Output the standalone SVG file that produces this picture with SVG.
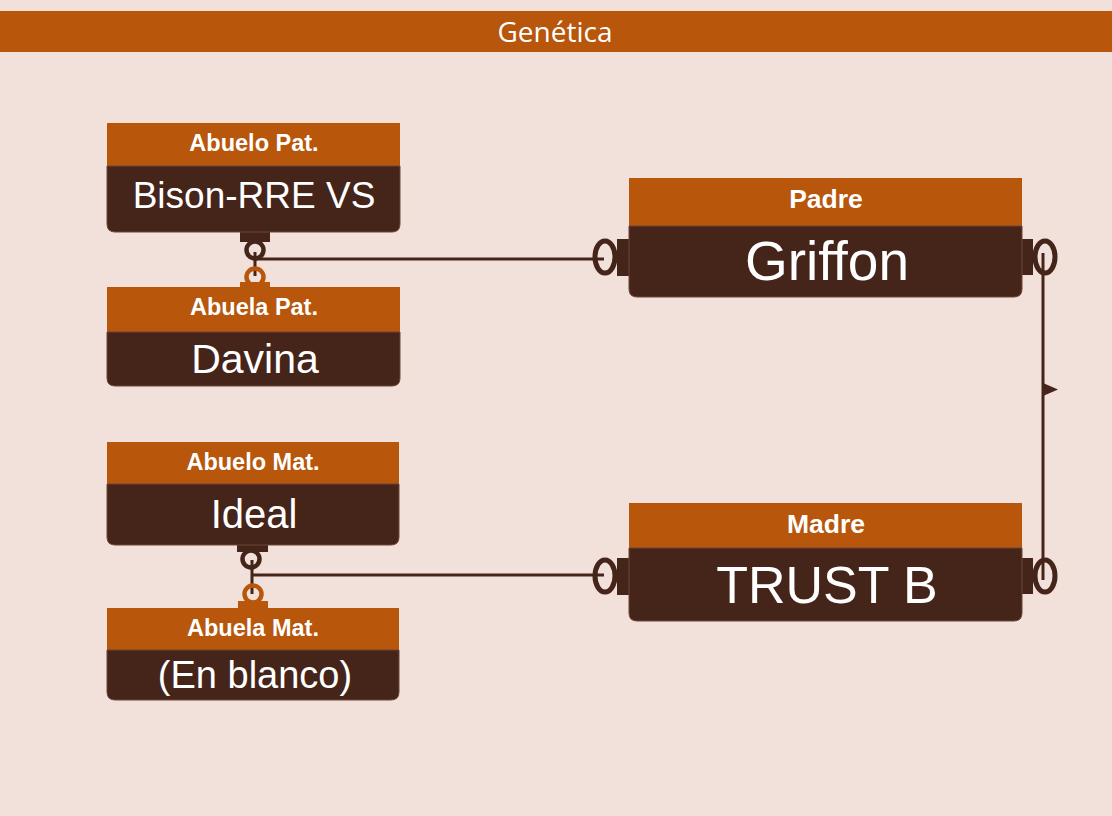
<svg xmlns="http://www.w3.org/2000/svg" width="1112" height="816" viewBox="0 0 1112 816">
<style>
.hdr{fill:#B8560C}
.body{fill:#45241A;stroke:#6e4636;stroke-width:1}
.ht{font-family:"Liberation Sans",Arial,sans-serif;font-weight:bold;fill:#ffffff;text-anchor:middle}
.bt{font-family:"Liberation Sans",Arial,sans-serif;fill:#ffffff;text-anchor:middle}
.ln{stroke:#45241A;stroke-width:3;fill:none}
.ringd{stroke:#45241A;stroke-width:4.5;fill:none}
.ringo{stroke:#B8560C;stroke-width:4.5;fill:none}
.ringb{stroke:#45241A;stroke-width:5;fill:none}
.tabd{fill:#45241A}
.tabo{fill:#B8560C}
</style>
<rect x="0" y="0" width="1112" height="816" fill="#F2E0DA"/>
<g id="title">
<rect x="0" y="11" width="1112" height="41" fill="#B8560C"/>
<text x="555" y="42" font-family="'Open Sans','Noto Sans',sans-serif" font-size="28" fill="#ffffff" text-anchor="middle">Genética</text>
</g>
<g id="connectors">
<line class="ln" x1="255" y1="252" x2="255" y2="276"/>
<line class="ln" x1="255" y1="259" x2="604" y2="259"/>
<rect class="tabd" x="240" y="232" width="30" height="10"/>
<circle class="ringd" cx="255" cy="250" r="8.5"/>
<rect class="tabo" x="240" y="282" width="30" height="6"/>
<circle class="ringo" cx="255" cy="277" r="8.5"/>
<line class="ln" x1="252" y1="560" x2="252" y2="594"/>
<line class="ln" x1="252" y1="575" x2="604" y2="575"/>
<rect class="tabd" x="237" y="545" width="31" height="7"/>
<circle class="ringd" cx="251" cy="559" r="8.5"/>
<rect class="tabo" x="238" y="601" width="30" height="7"/>
<circle class="ringo" cx="253" cy="594" r="8.5"/>
<rect class="tabd" x="617" y="239" width="13" height="37"/>
<ellipse class="ringb" cx="605" cy="257" rx="10" ry="16"/>
<rect class="tabd" x="1021" y="239" width="12" height="36"/>
<ellipse class="ringb" cx="1045" cy="257" rx="10" ry="16"/>
<rect class="tabd" x="617" y="558" width="13" height="37"/>
<ellipse class="ringb" cx="605" cy="576" rx="10" ry="16"/>
<rect class="tabd" x="1021" y="558" width="12" height="36"/>
<ellipse class="ringb" cx="1045" cy="576" rx="10" ry="16"/>
<line class="ln" x1="1043" y1="253" x2="1043" y2="580"/>
<polygon points="1043,383 1058,389.5 1043,396" fill="#45241A"/>
</g>
<g id="abuelo-pat">
<rect class="hdr" x="107" y="123" width="293" height="43"/>
<path class="body" d="M107 166 H400 V224 Q400 232 392 232 H115 Q107 232 107 224 Z"/>
<text class="ht" x="254" y="151" font-size="23.5">Abuelo Pat.</text>
<text class="bt" x="254" y="208" font-size="37">Bison-RRE VS</text>
</g>
<g id="abuela-pat">
<rect class="hdr" x="107" y="287" width="293" height="45"/>
<path class="body" d="M107 332 H400 V378 Q400 386 392 386 H115 Q107 386 107 378 Z"/>
<text class="ht" x="254" y="315" font-size="23.5">Abuela Pat.</text>
<text class="bt" x="255" y="373" font-size="41">Davina</text>
</g>
<g id="abuelo-mat">
<rect class="hdr" x="107" y="442" width="292" height="42"/>
<path class="body" d="M107 484 H399 V537 Q399 545 391 545 H115 Q107 545 107 537 Z"/>
<text class="ht" x="253" y="470" font-size="23.5">Abuelo Mat.</text>
<text class="bt" x="254" y="528" font-size="40">Ideal</text>
</g>
<g id="abuela-mat">
<rect class="hdr" x="107" y="608" width="292" height="42"/>
<path class="body" d="M107 650 H399 V692 Q399 700 391 700 H115 Q107 700 107 692 Z"/>
<text class="ht" x="253" y="636" font-size="23.5">Abuela Mat.</text>
<text class="bt" x="255" y="688" font-size="38">(En blanco)</text>
</g>
<g id="padre">
<rect class="hdr" x="629" y="178" width="393" height="48"/>
<path class="body" d="M629 226 H1022 V289 Q1022 297 1014 297 H637 Q629 297 629 289 Z"/>
<text class="ht" x="826" y="208" font-size="26.5">Padre</text>
<text class="bt" x="827" y="280" font-size="55">Griffon</text>
</g>
<g id="madre">
<rect class="hdr" x="629" y="503" width="393" height="45"/>
<path class="body" d="M629 548 H1022 V613 Q1022 621 1014 621 H637 Q629 621 629 613 Z"/>
<text class="ht" x="826" y="533" font-size="26.5">Madre</text>
<text class="bt" x="827" y="603" font-size="52">TRUST B</text>
</g>
</svg>
